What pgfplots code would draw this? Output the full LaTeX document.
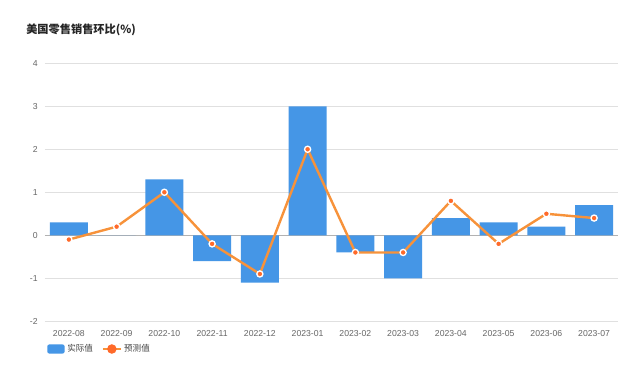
\documentclass[border=0pt]{standalone}
\usepackage{fontspec}
\setmainfont{Liberation Sans}
\newfontfamily\cjk{Noto Sans CJK SC}
\usepackage{pgfplots}
\pgfplotsset{compat=1.18}
\definecolor{barblue}{HTML}{4596E6}
\definecolor{lineorange}{HTML}{F7923A}
\definecolor{markorange}{HTML}{FF6A2A}
\definecolor{ticktext}{HTML}{666666}
\begin{document}
\begin{tikzpicture}[x=1pt,y=1pt]
\path[use as bounding box, fill=white] (0,0) rectangle (480,276.75);
\node[anchor=west,inner sep=0pt,font=\cjk\bfseries\fontsize{8.4}{10}\selectfont,text=black!85] at (19.5,254.5) {美国零售销售环比(\%)};
\begin{axis}[at={(33.75pt,35.8pt)}, anchor=south west, scale only axis,
  width=429.75pt, height=193.5pt,
  xmin=-0.5, xmax=11.5, ymin=-2, ymax=4,
  ytick={-2,-1,1,2,3,4}, xtick={0,...,11},
  extra y ticks={0}, extra y tick style={grid style={draw=black!30, line width=0.8pt}},
  xticklabels={2022-08,2022-09,2022-10,2022-11,2022-12,2023-01,2023-02,2023-03,2023-04,2023-05,2023-06,2023-07},
  axis line style={draw=none}, ymajorgrids, grid style={draw=black!12, line width=0.6pt},
  major tick length=0pt,
  tick label style={font=\fontsize{6.5}{7.5}\selectfont, text=ticktext},
  xticklabel style={yshift=-3pt},
  yticklabel style={xshift=-2pt},
  /pgf/number format/assume math mode=true,
  legend style={at={(0,0)}, anchor=west, yshift=-20.8pt, xshift=-1.5pt, draw=none, fill=none,
    font=\cjk\fontsize{6.4}{8}\selectfont, text=black!75, legend columns=2,
    /tikz/every even column/.append style={column sep=5pt}},
  legend cell align=left,
]
\addplot[ybar, bar width=0.8, fill=barblue, draw=none,
  legend image code/.code={\fill[barblue, rounded corners=1.5pt] (0pt,-3.4pt) rectangle (13pt,3.4pt);}]
  coordinates {(0,0.3) (1,0) (2,1.3) (3,-0.6) (4,-1.1) (5,3.0) (6,-0.4) (7,-1.0) (8,0.4) (9,0.3) (10,0.2) (11,0.7)};
\addlegendentry{实际值}
\addplot[lineorange, line width=1.8pt, mark=*, mark size=2.3pt,
  mark options={fill=markorange, draw=white, line width=1pt},
  legend image code/.code={\draw[lineorange, line width=1pt] (0pt,0pt) -- (13.5pt,0pt); \fill[markorange] (6.75pt,0pt) circle (2.6pt);}]
  coordinates {(0,-0.1) (1,0.2) (2,1.0) (3,-0.2) (4,-0.9) (5,2.0) (6,-0.4) (7,-0.4) (8,0.8) (9,-0.2) (10,0.5) (11,0.4)};
\addlegendentry{预测值}
\end{axis}
\end{tikzpicture}
\end{document}
